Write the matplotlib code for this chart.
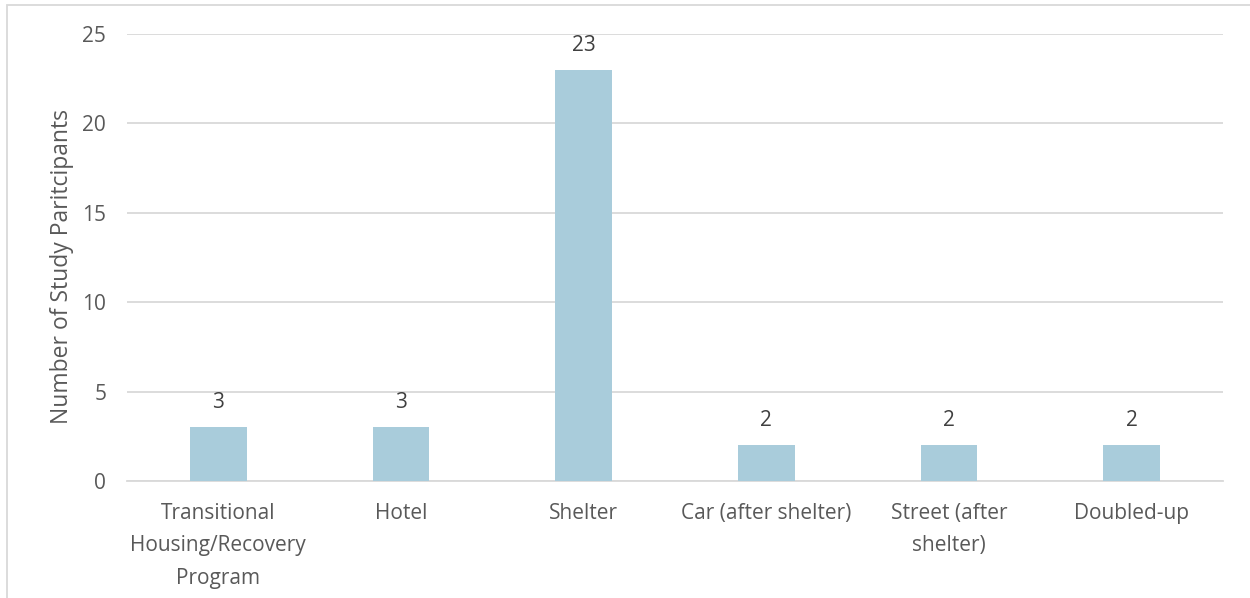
import matplotlib.pyplot as plt
from matplotlib.patches import Rectangle

categories = ["Transitional\nHousing/Recovery\nProgram", "Hotel", "Shelter",
              "Car (after shelter)", "Street (after\nshelter)", "Doubled-up"]
counts = [3, 3, 23, 2, 2, 2]
y_ticks = [0, 5, 10, 15, 20, 25]

bar_color = "#a9ccdb"
grid_color = "#d9d9d9"
tick_color = "#595959"
label_color = "#404040"

plt.rcParams['font.family'] = ['Open Sans', 'DejaVu Sans']

fig = plt.figure(figsize=(12.5, 5.98), dpi=100)
ax = fig.add_axes([127/1250, 1 - 481/598, 1096/1250, 447/598])

x = list(range(len(categories)))
bars = ax.bar(x, counts, width=0.31, color=bar_color, zorder=3)

for xi, v in zip(x, counts):
    ax.annotate(str(v), (xi, v), xytext=(0, 10), textcoords="offset points",
                ha="center", va="bottom", fontsize=15, color=label_color)

ax.set_xlim(-0.5, len(categories) - 0.5)
ax.set_ylim(0, 25)
ax.set_yticks(y_ticks)
ax.set_xticks(x)
ax.set_xticklabels(categories, fontsize=15, color=tick_color, linespacing=1.7)
ax.tick_params(axis="y", labelsize=15, labelcolor=tick_color, length=0, pad=15)
ax.tick_params(axis="x", length=0, pad=16)

ax.grid(axis="y", color=grid_color, linewidth=1.3, zorder=0)
for s in ["top", "right", "left"]:
    ax.spines[s].set_visible(False)
ax.spines["bottom"].set_color(grid_color)
ax.spines["bottom"].set_linewidth(1.3)

ax.set_ylabel("Number of Study Paritcipants", fontsize=16.5, color=tick_color)
ax.yaxis.set_label_coords(-0.048, 0.48)

# light frame around the chart area
fig.patches.append(Rectangle((7/1250, -0.1), 1.2, 1 - 5/598 + 0.1, transform=fig.transFigure,
                             fill=False, edgecolor=grid_color, linewidth=1.3))

fig.savefig("out.png", dpi=100)
